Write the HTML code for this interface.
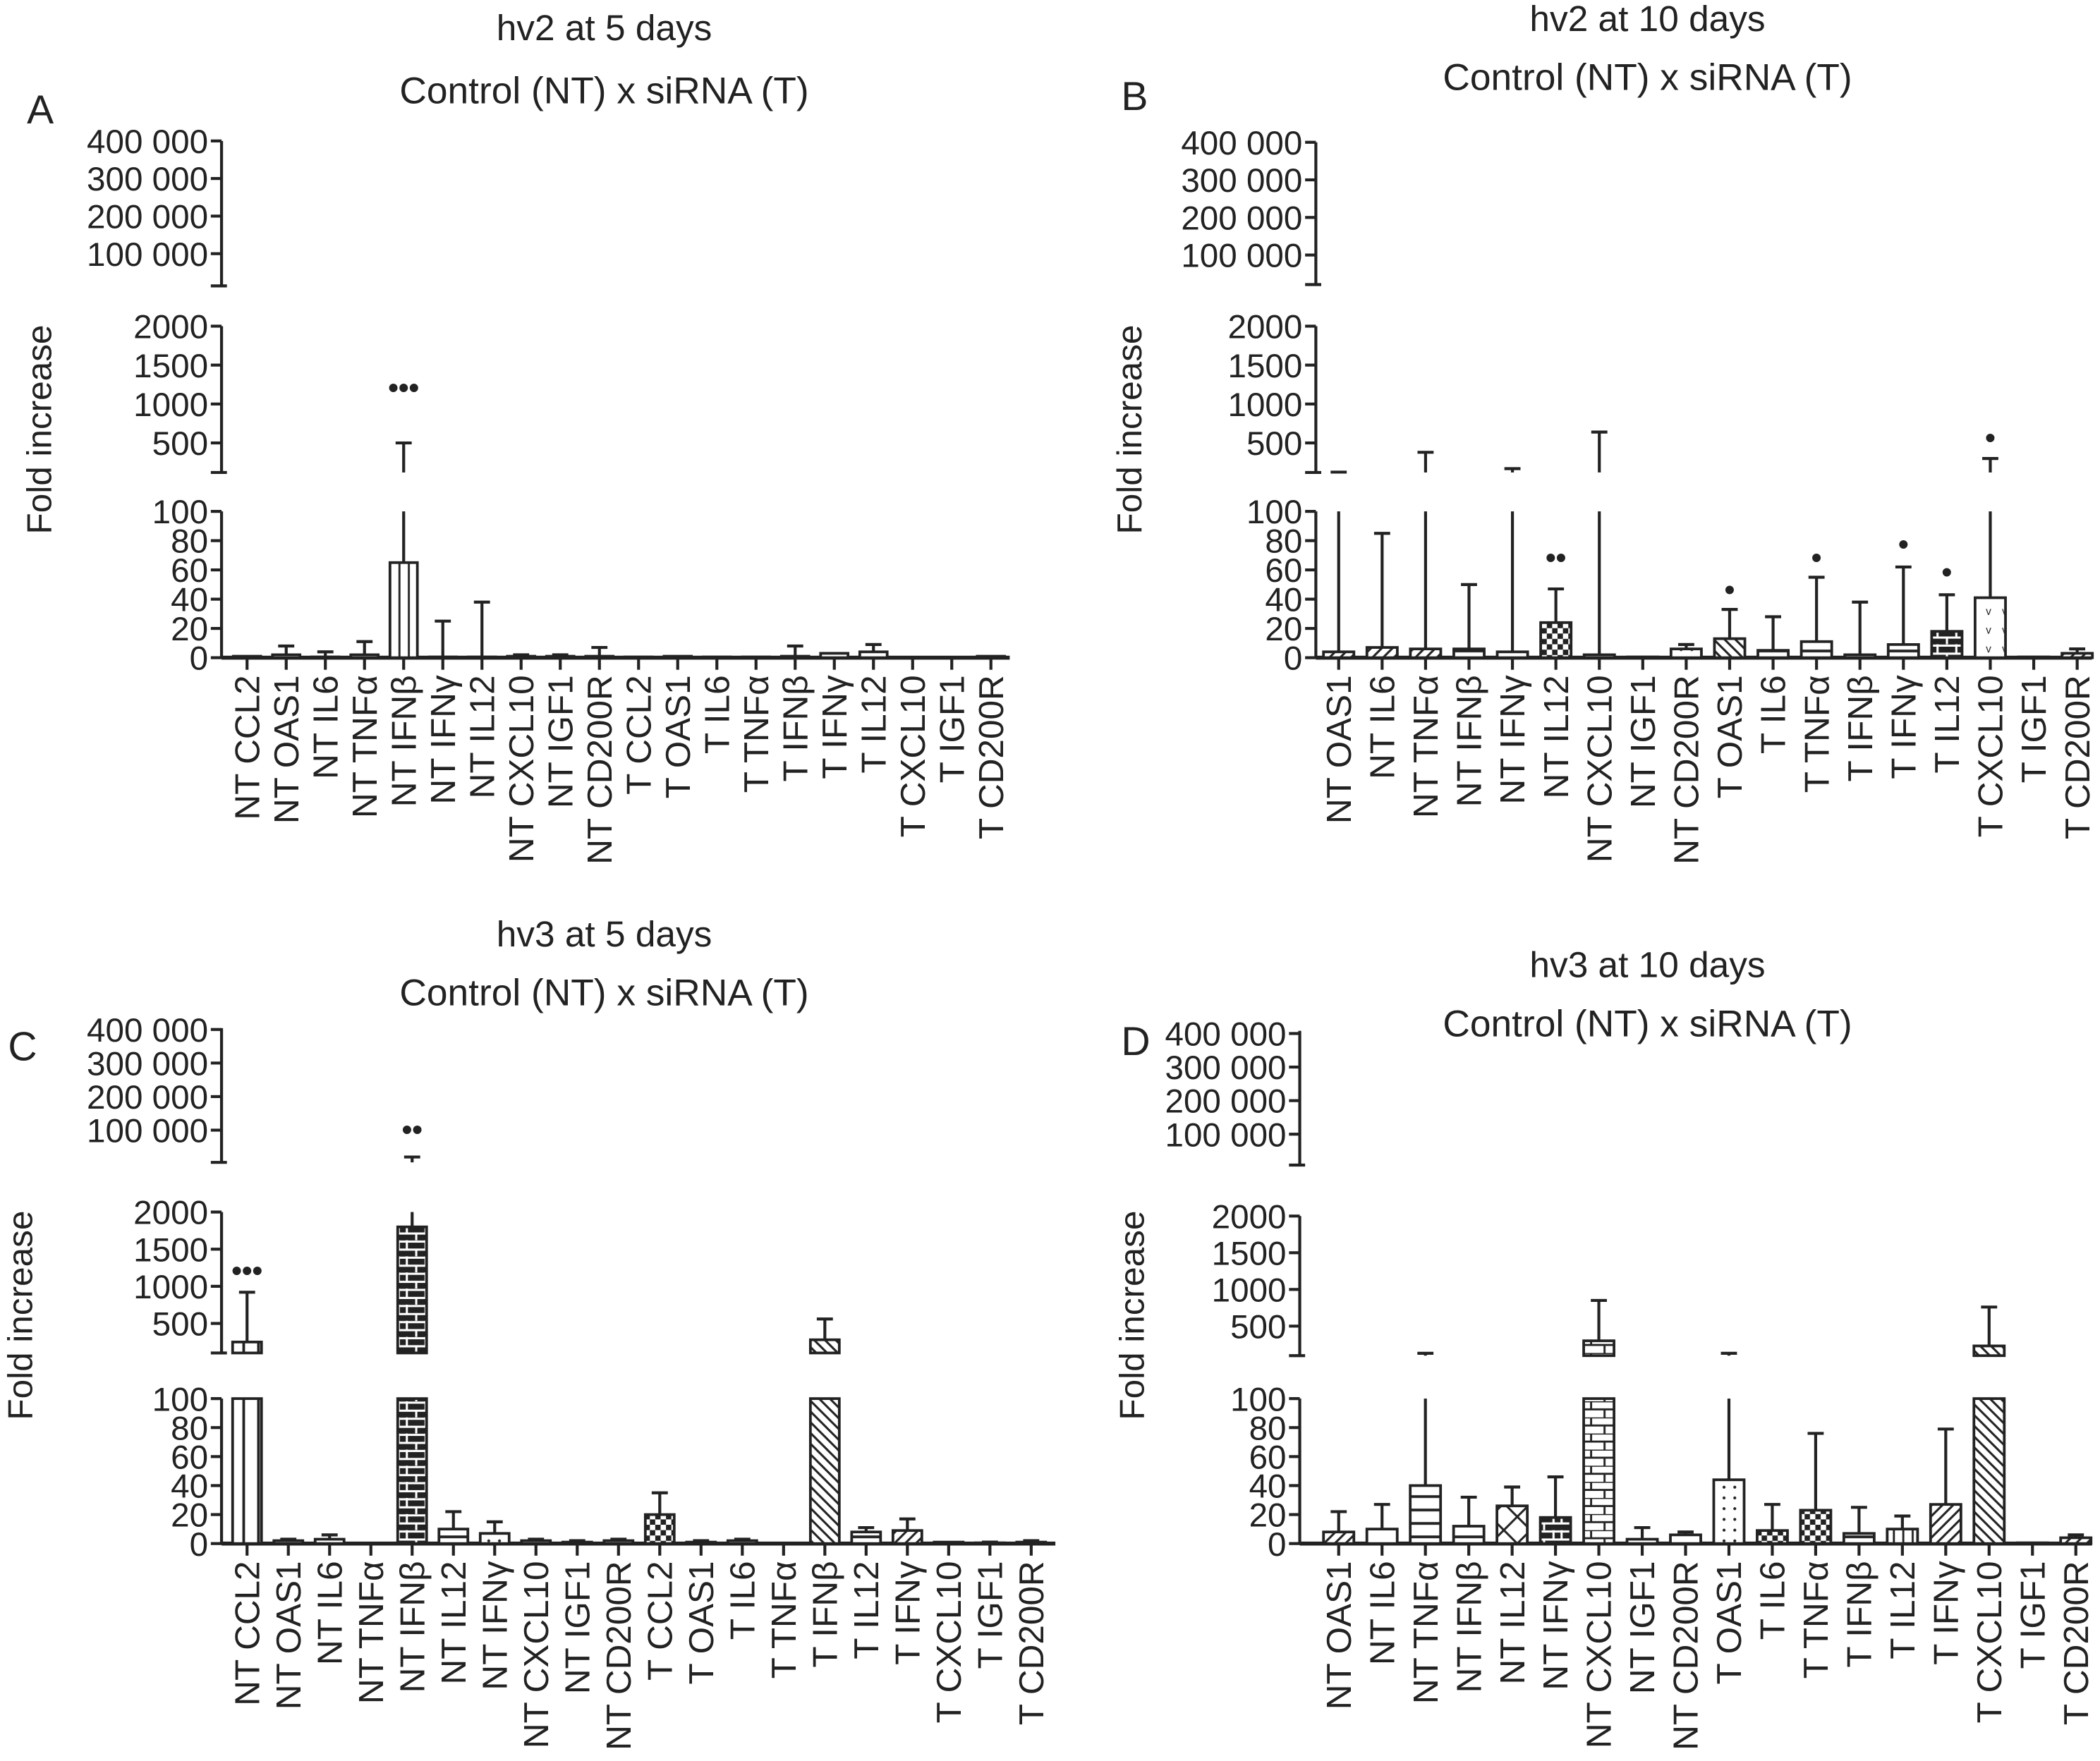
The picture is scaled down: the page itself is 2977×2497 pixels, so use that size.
<!DOCTYPE html>
<html><head><meta charset="utf-8"><style>
html,body{margin:0;padding:0;background:#fff}
svg{display:block}
text{font-family:"Liberation Sans",sans-serif;fill:#222}
</style></head><body>
<svg id="fig" width="2977" height="2497" viewBox="0 0 1564 1312" preserveAspectRatio="none" xmlns="http://www.w3.org/2000/svg">
<defs>
<pattern id="p-vert" width="7" height="10" patternUnits="userSpaceOnUse"><rect width="7" height="10" fill="#fff"/><line x1="3.5" y1="0" x2="3.5" y2="10" stroke="#222" stroke-width="1.5"/></pattern>
<pattern id="p-vwide" width="11" height="10" patternUnits="userSpaceOnUse"><rect width="11" height="10" fill="#fff"/><line x1="5.5" y1="0" x2="5.5" y2="10" stroke="#222" stroke-width="2"/></pattern>
<pattern id="p-horiz" width="10" height="10" patternUnits="userSpaceOnUse"><rect width="10" height="10" fill="#fff"/><line x1="0" y1="5" x2="10" y2="5" stroke="#222" stroke-width="2"/></pattern>
<pattern id="p-diagR" width="8" height="8" patternUnits="userSpaceOnUse"><rect width="8" height="8" fill="#fff"/><path d="M0,8 L8,0 M-2,2 L2,-2 M6,10 L10,6" stroke="#222" stroke-width="1.6"/></pattern>
<pattern id="p-diagL" width="8" height="8" patternUnits="userSpaceOnUse"><rect width="8" height="8" fill="#fff"/><path d="M0,0 L8,8 M-2,6 L2,10 M6,-2 L10,2" stroke="#222" stroke-width="1.6"/></pattern>
<pattern id="p-check" width="8" height="8" patternUnits="userSpaceOnUse"><rect width="8" height="8" fill="#fff"/><rect width="4" height="4" fill="#222"/><rect x="4" y="4" width="4" height="4" fill="#222"/></pattern>
<pattern id="p-brick" width="20" height="12" patternUnits="userSpaceOnUse"><rect width="20" height="12" fill="#fff"/><path d="M0,0 H20 M0,6 H20 M5,0 V6 M15,6 V12" stroke="#222" stroke-width="1.5"/></pattern>
<pattern id="p-bbrick" width="20" height="12" patternUnits="userSpaceOnUse"><rect width="20" height="12" fill="#222"/><path d="M0,1 H20 M0,7 H20 M3,0 V7 M17,0 V7 M10,7 V12" stroke="#fff" stroke-width="1.6"/></pattern>
<pattern id="p-dots" width="8" height="8" patternUnits="userSpaceOnUse"><rect width="8" height="8" fill="#fff"/><circle cx="4" cy="4" r="1.1" fill="#222"/></pattern>
<pattern id="p-xcross" width="20" height="20" patternUnits="userSpaceOnUse"><rect width="20" height="20" fill="#fff"/><path d="M0,0 L20,20 M20,0 L0,20" stroke="#222" stroke-width="1.6"/></pattern>
<pattern id="p-vv" width="12" height="14" patternUnits="userSpaceOnUse"><rect width="12" height="14" fill="#fff"/><text x="3" y="10" font-size="8">v</text></pattern>
</defs>
</svg>
<script>
// ---- Panel A data ----
const catsA = ["NT CCL2","NT OAS1","NT IL6","NT TNFα","NT IFNβ","NT IFNγ","NT IL12","NT CXCL10","NT IGF1","NT CD200R","T CCL2","T OAS1","T IL6","T TNFα","T IFNβ","T IFNγ","T IL12","T CXCL10","T IGF1","T CD200R"];
const meanA = [1,2,0.5,2,65,0.5,0.5,1,1,1,0.5,1,0.5,0.5,1,3,4,0.3,0.3,1];
const errA  = [1,8,4,11,500,25,38,2,2,7,0,1,0,0,8,3,9,0,0,1];
const sigA  = [null,null,null,null,["•••",1200],null,null,null,null,null,null,null,null,null,null,null,null,null,null,null];
const patA  = ["none","none","none","none","vert","none","none","none","none","none","none","none","none","none","none","horiz","horiz","none","none","none"];
// ---- Panel B data ----
const catsB = ["NT OAS1","NT IL6","NT TNFα","NT IFNβ","NT IFNγ","NT IL12","NT CXCL10","NT IGF1","NT CD200R","T OAS1","T IL6","T TNFα","T IFNβ","T IFNγ","T IL12","T CXCL10","T IGF1","T CD200R"];
const meanB = [4,7,6,6,4,24,2,0.5,6,13,5,11,2,9,18,41,0.5,3];
const errB  = [125,85,380,50,170,47,640,0,9,33,28,55,38,62,43,300,0,6];
const sigB  = [null,null,null,null,null,["••",68],null,null,null,["•",46],null,["•",68],null,["•",77],["•",58],["•",560],null,null];
const patB  = ["diagR","diagR","diagR","horiz","horiz","check","none","none","dots","diagL","horiz","horiz","none","horiz","bbrick","vv","none","diagR"];
// ---- Panel C data ----
const catsC = ["NT CCL2","NT OAS1","NT IL6","NT TNFα","NT IFNβ","NT IL12","NT IFNγ","NT CXCL10","NT IGF1","NT CD200R","T CCL2","T OAS1","T IL6","T TNFα","T IFNβ","T IL12","T IFNγ","T CXCL10","T IGF1","T CD200R"];
const meanC = [250,2,3,0,1800,10,7,2,1,2,20,1,2,0,280,8,9,1,0.5,1];
const errC  = [920,3,6,0,20000,22,15,3,2,3,35,2,3,0,560,11,17,1,1,2];
const sigC  = [["•••",1200],null,null,null,["••",100000],null,null,null,null,null,null,null,null,null,null,null,null,null,null,null];
const patC  = ["vwide","none","none","none","bbrick","horiz","dots","none","none","none","check","none","none","none","diagL","horiz","diagR","none","none","none"];
// ---- Panel D data ----
const catsD = ["NT OAS1","NT IL6","NT TNFα","NT IFNβ","NT IL12","NT IFNγ","NT CXCL10","NT IGF1","NT CD200R","T OAS1","T IL6","T TNFα","T IFNβ","T IL12","T IFNγ","T CXCL10","T IGF1","T CD200R"];
const meanD = [8,10,40,12,26,18,300,3,6,44,9,23,7,10,27,230,0.5,4];
const errD  = [22,27,130,32,39,46,850,11,8,130,27,76,25,19,79,760,0,6];
const sigD  = new Array(18).fill(null);
const patD  = ["diagR","none","horiz","horiz","xcross","bbrick","brick","none","none","dots","check","check","horiz","vert","diagR","diagL","none","diagR"];

const svg = document.getElementById('fig');
const NS = "http://www.w3.org/2000/svg";
function mk(tag, attrs, parent){const e=document.createElementNS(NS,tag);for(const k in attrs)e.setAttribute(k,attrs[k]);(parent||svg).appendChild(e);return e;}
function txt(s, attrs, parent){const e=mk('text',attrs,parent);e.textContent=s;return e;}

function panel(cfg){
  const g = mk('g',{});
  
  
  const L=cfg.lower, M=cfg.middle, T=cfg.top;
  const yL = v => L.y0 + (L.y100 - L.y0) * (v/100);
  const mSlope = (M.y2000 - M.y500)/1500;
  const yM = v => M.y500 + (v-500)*mSlope;
  const mMin = 500 + (M.bottom - M.y500)/mSlope;
  const tSlope = (T.y2 - T.y1)/100000;
  const yT = v => T.y1 + (v-100000)*tSlope;
  const tMin = 100000 + (T.bottom - T.y1)/tSlope;
  const yAny = v => v<=100 ? yL(v) : (v<=2000 ? yM(Math.max(v,mMin)) : yT(Math.max(v,tMin)));
  const ax=cfg.axisX;
  const t1=txt(cfg.title1,{x:cfg.tx,y:cfg.t1y,'font-size':27,'text-anchor':'middle'},g);
  
  
  const t2=txt("Control (NT) x siRNA (T)",{x:cfg.tx,y:cfg.t2y,'font-size':28,'text-anchor':'middle'},g);
  
  
  const pl=txt(cfg.letter,{x:cfg.lx,y:cfg.ly,'font-size':30},g);
  
  
  const yt=txt("Fold increase",{x:0,y:0,'font-size':26,'text-anchor':'middle',transform:`translate(${cfg.ylx},${cfg.yly}) rotate(-90)`},g);
  
  
  const st={stroke:'#222','stroke-width':2.2,fill:'none'};
  mk('line',Object.assign({x1:ax,y1:T.y4,x2:ax,y2:T.bottom},st),g);
  mk('line',Object.assign({x1:ax-8,y1:T.bottom,x2:ax+4,y2:T.bottom},st),g);
  mk('line',Object.assign({x1:ax,y1:M.y2000,x2:ax,y2:M.bottom},st),g);
  mk('line',Object.assign({x1:ax-8,y1:M.bottom,x2:ax+4,y2:M.bottom},st),g);
  mk('line',Object.assign({x1:ax,y1:L.y100,x2:ax,y2:L.y0},st),g);
  const topTicks=[400000,300000,200000,100000], midTicks=[2000,1500,1000,500], lowTicks=[100,80,60,40,20,0];
  const fmt=v=>v>=100000?(v/1000)+" 000":String(v);
  const tickLab=(v,y)=>{mk('line',Object.assign({x1:ax-8,y1:y,x2:ax,y2:y},st),g);const e=txt(fmt(v),{x:ax-10,y:y+9,'font-size':25,'text-anchor':'end'},g);};
  topTicks.forEach(v=>tickLab(v,yT(v)));
  midTicks.forEach(v=>tickLab(v,yM(v)));
  lowTicks.forEach(v=>tickLab(v,yL(v)));
  const n=cfg.cats.length;
  const xs=i=>cfg.x0+(cfg.x1-cfg.x0)*i/(n-1);
  const bw=(cfg.x1-cfg.x0)/(n-1)*0.7;
  mk('line',{x1:ax,y1:L.y0,x2:cfg.baseEnd,y2:L.y0,stroke:'#222','stroke-width':3},g);
  cfg.cats.forEach((c,i)=>{
    const x=xs(i);
    mk('line',Object.assign({x1:x,y1:L.y0,x2:x,y2:L.y0+9},st),g);
    const lab=txt(c,{x:0,y:0,'font-size':26,'text-anchor':'end',transform:`translate(${x+9},${L.y0+13}) rotate(-90)`},g);
    
    
    const m=cfg.mean[i], er=cfg.err[i];
    const fill=cfg.pat[i]==="none"?"#fff":`url(#p-${cfg.pat[i]})`;
    if(er>m){
      const segs=[];
      segs.push([yL(Math.min(m,100)), yL(Math.min(er,100)), er<=100]);
      if(er>100){segs.push([m>100?yM(Math.max(m,mMin)):M.bottom, yM(Math.max(Math.min(er,2000),mMin)), er<=2000]);}
      if(er>2000){segs.push([T.bottom, yT(Math.max(er,tMin)), true]);}
      segs.forEach(s=>{
        if(Math.abs(s[0]-s[1])>0.5) mk('line',Object.assign({x1:x,y1:s[0],x2:x,y2:s[1]},st),g);
        if(s[2]) mk('line',Object.assign({x1:x-6,y1:s[1],x2:x+6,y2:s[1]},st),g);
      });
    }
    if(m>0){
      const b=mk('rect',{x:x-bw/2,y:yL(Math.min(m,100)),width:bw,height:L.y0-yL(Math.min(m,100)),fill:fill,stroke:'#222','stroke-width':2},g);
      
      
      if(m>100){
        const yt2=yM(Math.min(Math.max(m,mMin),2000));
        const b2=mk('rect',{x:x-bw/2,y:yt2,width:bw,height:M.bottom-yt2,fill:fill,stroke:'#222','stroke-width':2},g);
        
        
      }
    }
    const s=cfg.sig[i];
    if(s){const e=txt(s[0],{x:x,y:yAny(s[1])+7,'font-size':22,'font-weight':'bold','text-anchor':'middle'},g);}
  });
}

panel({name:'panel-a',letter:'A',lx:20,ly:92,title1:'hv2 at 5 days',tx:450,t1y:30,t2y:77,ylx:38,yly:320,axisX:165,
  top:{y4:105,y1:189,y2:161,bottom:213},middle:{y2000:243,y500:330,bottom:352},lower:{y100:381,y0:490},
  x0:184,x1:738,baseEnd:752,cats:catsA,mean:meanA,err:errA,sig:sigA,pat:patA});
panel({name:'panel-b',letter:'B',lx:835,ly:82,title1:'hv2  at 10 days',tx:1227,t1y:23,t2y:67,ylx:850,yly:320,axisX:980,
  top:{y4:106,y1:190,y2:162,bottom:212},middle:{y2000:243,y500:330,bottom:352},lower:{y100:381,y0:490},
  x0:997,x1:1547,baseEnd:1558,cats:catsB,mean:meanB,err:errB,sig:sigB,pat:patB});
panel({name:'panel-c',letter:'C',lx:6,ly:790,title1:'hv3 at 5 days',tx:450,t1y:705,t2y:749,ylx:24,yly:980,axisX:165,
  top:{y4:766,y1:842,y2:817,bottom:866},middle:{y2000:903,y500:986,bottom:1008},lower:{y100:1042,y0:1150},
  x0:184,x1:768,baseEnd:786,cats:catsC,mean:meanC,err:errC,sig:sigC,pat:patC});
panel({name:'panel-d',letter:'D',lx:835,ly:786,title1:'hv3 at 10 days',tx:1227,t1y:728,t2y:772,ylx:852,yly:980,axisX:968,
  top:{y4:768,y1:845,y2:820,bottom:868},middle:{y2000:906,y500:988,bottom:1010},lower:{y100:1042,y0:1150},
  x0:997,x1:1546,baseEnd:1558,cats:catsD,mean:meanD,err:errD,sig:sigD,pat:patD});
</script>
</body></html>
